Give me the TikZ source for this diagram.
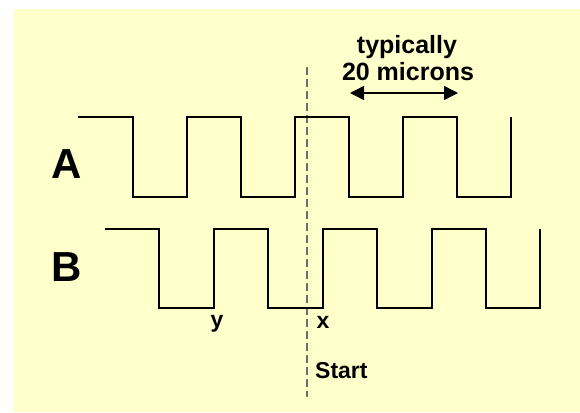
\documentclass[tikz,border=0pt]{standalone}
\usepackage{fontspec}
\setmainfont{Liberation Sans}
\usetikzlibrary{arrows.meta}
\definecolor{bgyellow}{HTML}{FFFFCC}
\definecolor{dashgray}{HTML}{6E6E6E}
\tikzset{
  wave/.style={line width=2.8pt, line join=miter, black},
  biglabel/.style={font=\bfseries\fontsize{42}{42}\selectfont, anchor=base, inner sep=0pt},
  smalllabel/.style={font=\bfseries\fontsize{23}{23}\selectfont, anchor=base, inner sep=0pt},
  notelabel/.style={font=\bfseries\fontsize{25}{27}\selectfont, anchor=base, inner sep=0pt},
  startline/.style={dashgray, line width=1.3pt, dash pattern=on 8pt off 4pt},
  measure/.style={line width=1.4pt, {Triangle[length=14pt,width=14pt]}-{Triangle[length=14pt,width=14pt]}}
}
\begin{document}
\begin{tikzpicture}[x=1pt,y=-1pt]
  \useasboundingbox (0,0) rectangle (580,412);
  \fill[white] (0,0) rectangle (580,412);
  \fill[bgyellow] (13,9) rectangle (580,412);

  % start line
  \coordinate (s1) at (307,67);
  \coordinate (s2) at (307,397);
  \draw[startline] (s1) -- (s2);

  % waveform A
  \draw[wave] (78,117) -- (133,117) -- (133,197) -- (187,197) -- (187,117)
    -- (241,117) -- (241,197) -- (295,197) -- (295,117) -- (349,117)
    -- (349,197) -- (403,197) -- (403,117) -- (457,117) -- (457,197)
    -- (511,197) -- (511,117);

  % waveform B
  \draw[wave] (105,229) -- (159,229) -- (159,308) -- (214,308) -- (214,229)
    -- (268,229) -- (268,308) -- (323,308) -- (323,229) -- (377,229)
    -- (377,308) -- (432,308) -- (432,229) -- (486,229) -- (486,308)
    -- (540,308) -- (540,229);

  % labels
  \node[biglabel] (la) at (67,178) {A};
  \node[biglabel] (lb) at (67,281) {B};
  \node[notelabel] (t1) at (407,53) {typically};
  \node[notelabel] (t2) at (408,80) {20 microns};
  \node[smalllabel] (ly) at (217,327) {y};
  \node[smalllabel] (lx) at (323,328) {x};
  \node[smalllabel, anchor=base west] (ls) at (315,378) {Start};

  % measurement arrow
  \coordinate (m1) at (350,93);
  \coordinate (m2) at (458,93);
  \draw[measure] (m1) -- (m2);
\end{tikzpicture}
\end{document}
